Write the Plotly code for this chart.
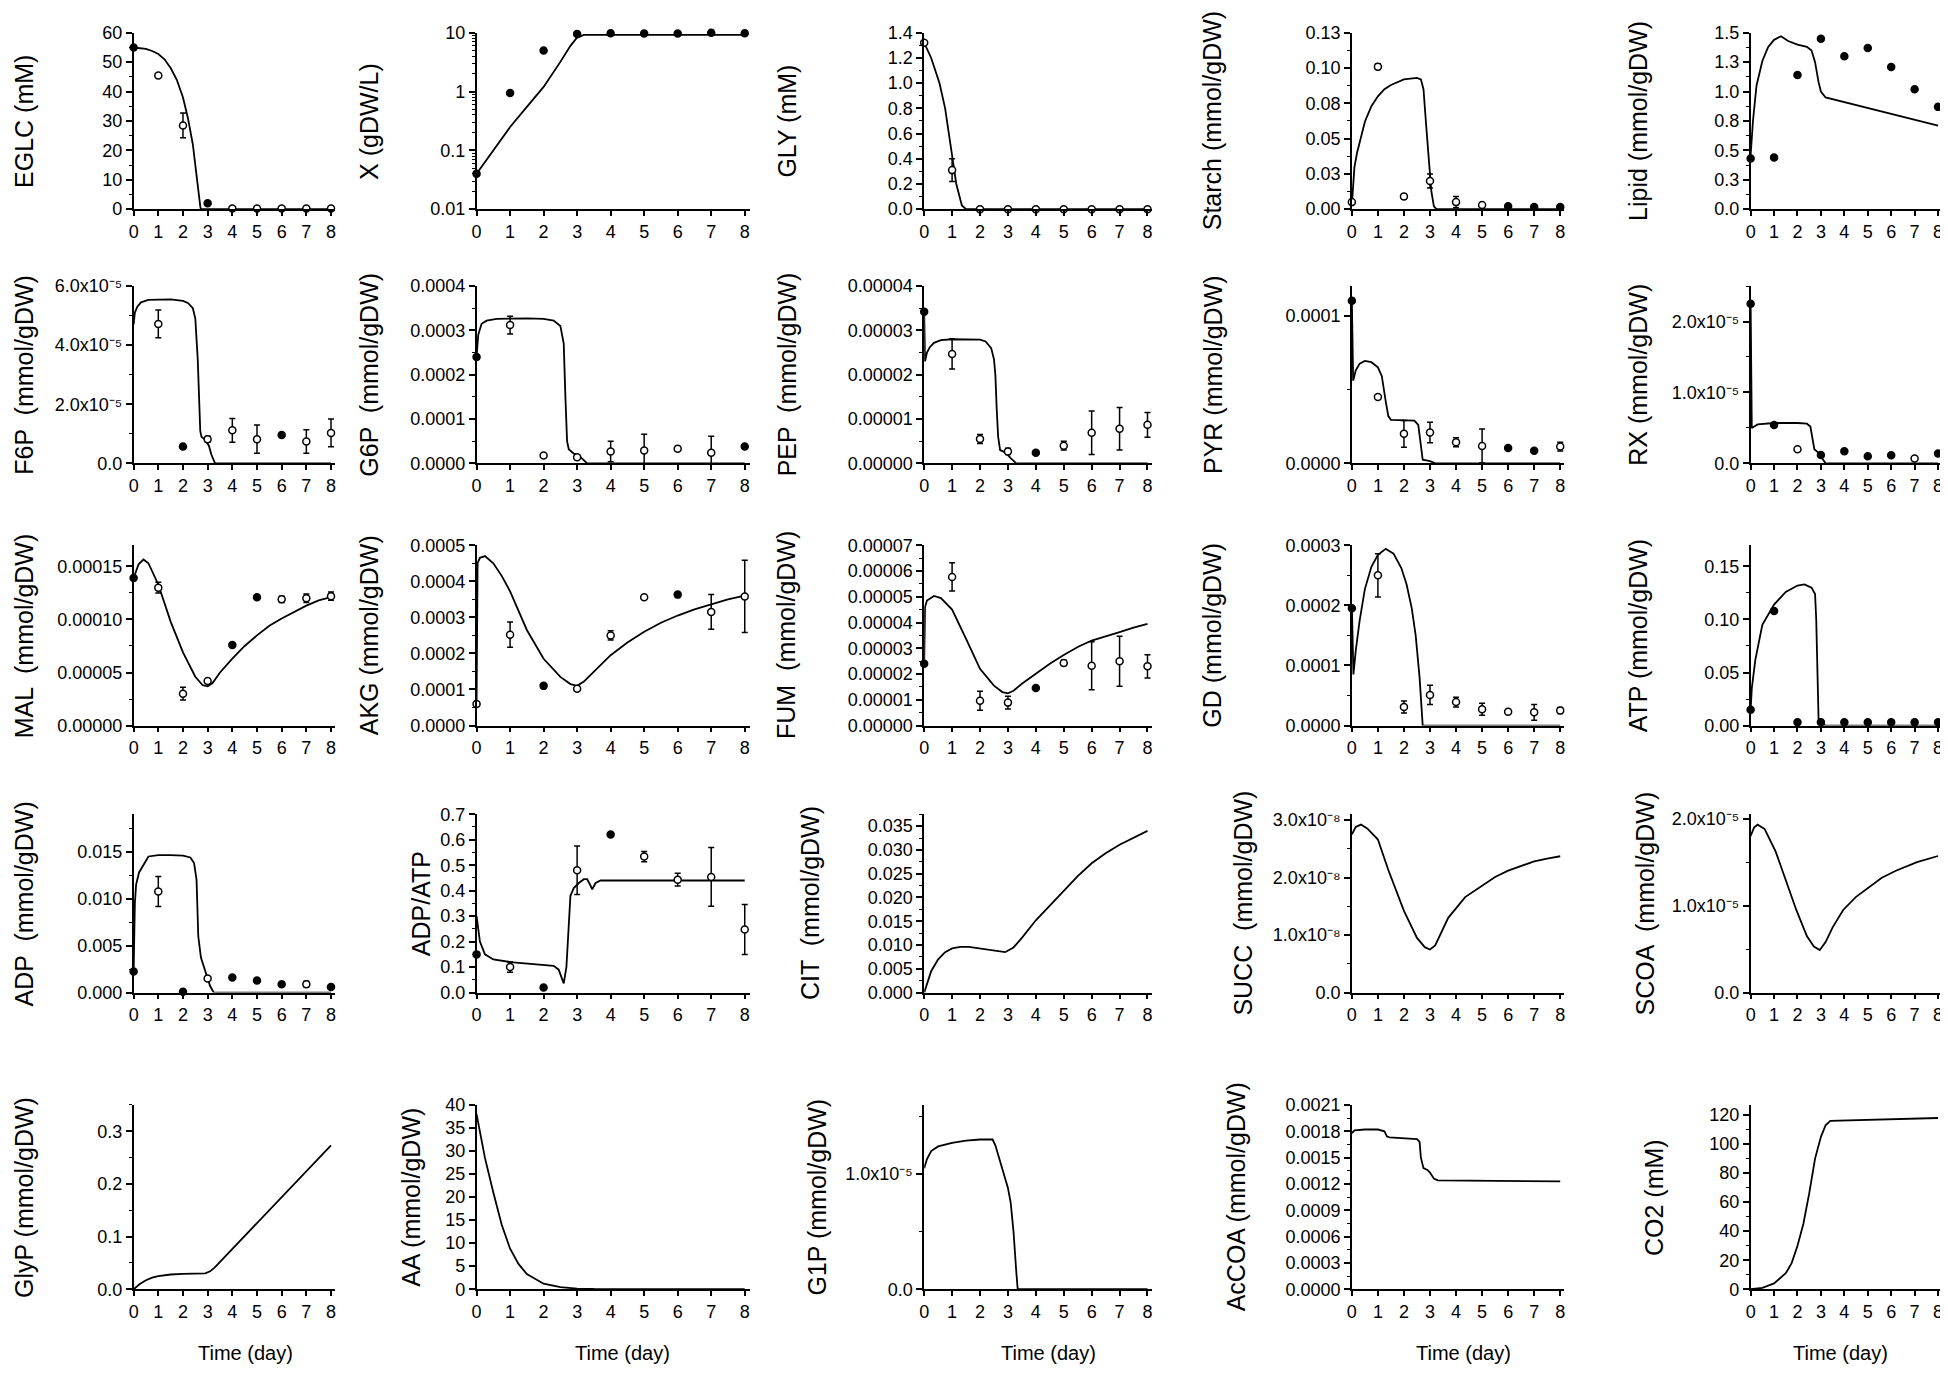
import subprocess
import plotly.graph_objects as go

days = [0, 1, 2, 3, 4, 5, 6, 7, 8]

# ---------------- Row 1 ----------------
EGLC_t = [0, 0.25, 0.5, 0.75, 1.0, 1.25, 1.5, 1.75, 2.0, 2.2, 2.4, 2.5, 2.6, 2.7, 2.72, 8]
EGLC_y = [55, 54.8, 54.5, 53.8, 52.8, 51, 48, 44, 38, 31, 22, 15, 7, 1, 0, 0]
EGLC_obs = [55, 45.5, 28.5, 2.0, 0.2, 0.2, 0.2, 0.2, 0.2]
EGLC_err = [None, None, 4.2, None, None, None, None, None, None]

X_t = [0, 0.5, 1, 1.5, 2, 2.5, 2.8, 3.0, 3.2, 8]
X_y = [0.04, 0.1, 0.25, 0.55, 1.2, 3.2, 6, 8.3, 9.2, 9.2]
X_obs = [0.04, 0.95, 5.0, 9.5, 9.8, 9.7, 9.7, 10.0, 9.8]
X_err = [None] * 9

GLY_t = [0, 0.25, 0.55, 0.75, 0.95, 1.15, 1.35, 1.5, 8]
GLY_y = [1.32, 1.2, 1.0, 0.8, 0.5, 0.2, 0.03, 0, 0]
GLY_obs = [1.32, 0.31, 0, 0, 0, 0, 0, 0, 0]
GLY_err = [None, 0.09, None, None, None, None, None, None, None]

Starch_t = [0, 0.05, 0.1, 0.2, 0.35, 0.5, 0.75, 1, 1.25, 1.5, 2, 2.5, 2.65, 2.75, 2.85, 2.95, 3.05, 3.15, 3.25, 8]
Starch_y = [0.003, 0.02, 0.03, 0.04, 0.052, 0.062, 0.073, 0.080, 0.085, 0.088, 0.092, 0.093, 0.092, 0.085, 0.06,
            0.035, 0.013, 0.002, 0, 0]
Starch_obs = [0.005, 0.101, 0.009, 0.02, 0.005, 0.003, 0.002, 0.0015, 0.0015]
Starch_err = [None, 0.002, 0.002, 0.005, 0.004, 0.001, None, None, None]

Lipid_t = [0, 0.1, 0.25, 0.5, 0.75, 1, 1.3, 1.6, 2, 2.4, 2.6, 2.75, 2.9, 3.0, 3.2, 8]
Lipid_y = [0.46, 0.75, 1.05, 1.26, 1.38, 1.44, 1.47, 1.43, 1.40, 1.38, 1.35, 1.25, 1.08, 1.0, 0.95, 0.71]
Lipid_obs = [0.43, 0.44, 1.14, 1.45, 1.30, 1.37, 1.21, 1.02, 0.87]
Lipid_err = [None] * 9

# ---------------- Row 2 ----------------
F6P_t = [0, 0.05, 0.15, 0.3, 0.6, 1, 1.5, 2, 2.2, 2.4, 2.5, 2.6, 2.65, 2.7, 2.75, 2.9, 3.05, 3.15, 3.3, 8]
F6P_y = [4.7e-5, 5.1e-5, 5.3e-5, 5.45e-5, 5.53e-5, 5.55e-5, 5.55e-5, 5.5e-5, 5.43e-5, 5.25e-5, 4.9e-5,
         3.5e-5, 2.0e-5, 1.1e-5, 0.9e-5, 0.8e-5, 0.6e-5, 0.3e-5, 0, 0]
F6P_obs = [None, 4.72e-5, 0.57e-5, 0.82e-5, 1.12e-5, 0.82e-5, 0.96e-5, 0.74e-5, 1.03e-5]
F6P_err = [None, 0.47e-5, None, 0.1e-5, 0.4e-5, 0.48e-5, None, 0.4e-5, 0.47e-5]

G6P_t = [0, 0.05, 0.15, 0.3, 0.6, 1, 1.5, 2, 2.3, 2.5, 2.6, 2.65, 2.7, 2.75, 2.9, 3.05, 3.2, 3.3, 8]
G6P_y = [2.4e-4, 2.9e-4, 3.15e-4, 3.22e-4, 3.26e-4, 3.27e-4, 3.27e-4, 3.26e-4, 3.22e-4, 3.1e-4, 2.7e-4,
         1.5e-4, 0.5e-4, 0.32e-4, 0.22e-4, 0.18e-4, 0.06e-4, 0, 0]
G6P_obs = [2.4e-4, 3.12e-4, 0.18e-4, 0.14e-4, 0.27e-4, 0.29e-4, 0.33e-4, 0.24e-4, 0.38e-4]
G6P_err = [None, 0.2e-4, None, 0.05e-4, 0.23e-4, 0.37e-4, 0.05e-4, 0.37e-4, None]

PEP_t = [0, 0.03, 0.1, 0.2, 0.35, 0.6, 1, 1.5, 2, 2.2, 2.4, 2.5, 2.55, 2.6, 2.65, 2.72, 2.9, 3.1, 3.3, 8]
PEP_y = [3.45e-5, 2.3e-5, 2.5e-5, 2.62e-5, 2.72e-5, 2.78e-5, 2.8e-5, 2.8e-5, 2.79e-5, 2.75e-5, 2.6e-5,
         2.35e-5, 2.0e-5, 1.2e-5, 0.6e-5, 0.3e-5, 0.25e-5, 0.12e-5, 0, 0]
PEP_obs = [3.42e-5, 2.47e-5, 0.55e-5, 0.27e-5, 0.24e-5, 0.40e-5, 0.69e-5, 0.78e-5, 0.87e-5]
PEP_err = [None, 0.34e-5, 0.1e-5, 0.07e-5, None, 0.1e-5, 0.49e-5, 0.48e-5, 0.28e-5]

PYR_t = [0, 0.05, 0.15, 0.3, 0.5, 0.75, 1.0, 1.15, 1.3, 1.4, 1.5, 2.0, 2.4, 2.55, 2.65, 2.72, 3.0, 3.2, 8]
PYR_y = [1.1e-4, 5.6e-5, 6.3e-5, 6.75e-5, 6.93e-5, 6.85e-5, 6.5e-5, 5.9e-5, 4.2e-5, 3.2e-5, 2.95e-5,
         2.92e-5, 2.9e-5, 2.6e-5, 1.0e-5, 0.25e-5, 0.15e-5, 0, 0]
PYR_obs = [1.1e-4, 4.5e-5, 2.0e-5, 2.09e-5, 1.43e-5, 1.18e-5, 1.05e-5, 0.85e-5, 1.14e-5]
PYR_err = [None, None, 0.9e-5, 0.7e-5, 0.3e-5, 1.15e-5, None, None, 0.3e-5]

RX_t = [0, 0.05, 0.3, 1, 2, 2.4, 2.55, 2.65, 2.72, 2.9, 3.05, 3.2, 8]
RX_y = [2.25e-5, 0.5e-5, 0.55e-5, 0.57e-5, 0.57e-5, 0.56e-5, 0.52e-5, 0.35e-5, 0.2e-5, 0.15e-5, 0.08e-5, 0, 0]
RX_obs = [2.25e-5, 0.54e-5, 0.2e-5, 0.12e-5, 0.17e-5, 0.1e-5, 0.115e-5, 0.07e-5, 0.14e-5]
RX_err = [None] * 9

# ---------------- Row 3 ----------------
MAL_t = [0, 0.2, 0.4, 0.6, 1.0, 1.5, 2.0, 2.5, 2.8, 3.0, 3.2, 3.5, 4, 4.5, 5, 5.5, 6, 6.5, 7, 7.5, 8]
MAL_y = [1.39e-4, 1.52e-4, 1.565e-4, 1.53e-4, 1.33e-4, 0.98e-4, 0.69e-4, 0.46e-4, 0.38e-4, 0.37e-4,
         0.4e-4, 0.5e-4, 0.63e-4, 0.75e-4, 0.85e-4, 0.94e-4, 1.01e-4, 1.07e-4, 1.13e-4, 1.18e-4, 1.21e-4]
MAL_obs = [1.39e-4, 1.30e-4, 0.30e-4, 0.42e-4, 0.76e-4, 1.21e-4, 1.19e-4, 1.20e-4, 1.22e-4]
MAL_err = [None, 0.05e-4, 0.06e-4, None, None, None, 0.03e-4, 0.04e-4, 0.04e-4]

AKG_t = [0, 0.03, 0.1, 0.25, 0.5, 0.75, 1, 1.5, 2, 2.5, 2.8, 3.0, 3.2, 3.5, 4, 4.5, 5, 5.5, 6, 6.5, 7, 7.5, 8]
AKG_y = [0.6e-4, 4.5e-4, 4.65e-4, 4.7e-4, 4.5e-4, 4.15e-4, 3.72e-4, 2.65e-4, 1.85e-4, 1.35e-4, 1.15e-4, 1.1e-4,
         1.22e-4, 1.5e-4, 1.95e-4, 2.3e-4, 2.6e-4, 2.85e-4, 3.05e-4, 3.22e-4, 3.37e-4, 3.5e-4, 3.6e-4]
AKG_obs = [0.6e-4, 2.52e-4, 1.1e-4, 1.02e-4, 2.5e-4, 3.56e-4, 3.63e-4, 3.15e-4, 3.58e-4]
AKG_err = [None, 0.35e-4, None, 0.07e-4, 0.13e-4, None, None, 0.48e-4, 1.0e-4]

FUM_t = [0, 0.03, 0.1, 0.35, 0.6, 1, 1.5, 2, 2.5, 2.8, 3.0, 3.2, 3.5, 4, 4.5, 5, 5.5, 6, 6.5, 7, 7.5, 8]
FUM_y = [2.4e-5, 4.6e-5, 4.85e-5, 5.03e-5, 4.95e-5, 4.5e-5, 3.36e-5, 2.2e-5, 1.55e-5, 1.3e-5, 1.25e-5, 1.35e-5,
         1.62e-5, 2.0e-5, 2.4e-5, 2.74e-5, 3.05e-5, 3.3e-5, 3.48e-5, 3.63e-5, 3.8e-5, 3.95e-5]
FUM_obs = [2.4e-5, 5.77e-5, 0.96e-5, 0.89e-5, 1.46e-5, 2.43e-5, 2.32e-5, 2.5e-5, 2.3e-5]
FUM_err = [None, 0.55e-5, 0.37e-5, 0.25e-5, None, 0.1e-5, 0.93e-5, 0.97e-5, 0.45e-5]

GD_t = [0, 0.03, 0.06, 0.15, 0.3, 0.5, 0.75, 1, 1.3, 1.6, 1.9, 2.1, 2.3, 2.45, 2.6, 2.72, 8]
GD_y = [2.0e-4, 1.2e-4, 0.85e-4, 1.25e-4, 1.75e-4, 2.27e-4, 2.64e-4, 2.84e-4, 2.94e-4, 2.86e-4, 2.62e-4,
        2.35e-4, 1.95e-4, 1.5e-4, 0.8e-4, 0, 0]
GD_obs = [1.95e-4, 2.5e-4, 0.31e-4, 0.51e-4, 0.39e-4, 0.27e-4, 0.23e-4, 0.22e-4, 0.25e-4]
GD_err = [None, 0.36e-4, 0.1e-4, 0.16e-4, 0.08e-4, 0.1e-4, None, 0.13e-4, 0.05e-4]

ATP_t = [0, 0.05, 0.2, 0.5, 1.0, 1.5, 2.0, 2.3, 2.6, 2.75, 2.8, 2.85, 2.9, 3.0, 3.2, 8]
ATP_y = [0.015, 0.035, 0.062, 0.095, 0.114, 0.126, 0.132, 0.133, 0.13, 0.124, 0.1, 0.056, 0.006, 0.002, 0, 0]
ATP_obs = [0.015, 0.108, 0.003, 0.003, 0.003, 0.003, 0.003, 0.003, 0.003]
ATP_err = [None] * 9

# ---------------- Row 4 ----------------
ADP_t = [0, 0.05, 0.1, 0.22, 0.6, 1.0, 1.5, 2.0, 2.3, 2.45, 2.55, 2.62, 2.73, 2.95, 3.1, 3.25, 8]
ADP_y = [0.0022, 0.0095, 0.0115, 0.0128, 0.0145, 0.01465, 0.01465, 0.0146, 0.0144, 0.0138, 0.012,
         0.006, 0.0037, 0.0019, 0.0007, 0, 0]
ADP_obs = [0.00225, 0.01076, 0.0001, 0.0015, 0.0016, 0.0013, 0.0009, 0.0009, 0.0006]
ADP_err = [None, 0.0016, None, None, None, None, None, 0.0003, None]

RATIO_t = [0, 0.05, 0.1, 0.25, 0.5, 1, 1.5, 2, 2.3, 2.45, 2.55, 2.6, 2.68, 2.75, 2.8, 2.9, 3.05, 3.2, 3.3, 3.4,
           3.45, 3.55, 3.7, 8]
RATIO_y = [0.3, 0.25, 0.2, 0.15, 0.13, 0.12, 0.115, 0.11, 0.105, 0.09, 0.05, 0.036, 0.1, 0.3, 0.38, 0.41, 0.43,
           0.445, 0.445, 0.42, 0.405, 0.43, 0.44, 0.44]
RATIO_obs = [0.15, 0.1, 0.02, 0.48, 0.62, 0.534, 0.443, 0.454, 0.248]
RATIO_err = [None, 0.02, None, 0.095, None, 0.02, 0.025, 0.115, 0.098]

CIT_t = [0, 0.1, 0.25, 0.5, 0.75, 1, 1.3, 1.6, 2, 2.5, 2.9, 3.2, 3.5, 4, 4.5, 5, 5.5, 6, 6.5, 7, 7.5, 8]
CIT_y = [0, 0.002, 0.0045, 0.0070, 0.0085, 0.0093, 0.0096, 0.0096, 0.0093, 0.0089, 0.0085, 0.0095, 0.0115,
         0.0152, 0.0183, 0.0212, 0.0245, 0.0272, 0.0293, 0.0311, 0.0326, 0.0340]

SUCC_t = [0, 0.15, 0.35, 0.6, 1.0, 1.4, 2.0, 2.5, 2.8, 3.0, 3.2, 3.7, 4.35, 5, 5.5, 6, 6.6, 7, 7.5, 8]
SUCC_y = [2.75e-8, 2.88e-8, 2.92e-8, 2.85e-8, 2.66e-8, 2.13e-8, 1.42e-8, 0.95e-8, 0.79e-8, 0.75e-8, 0.82e-8,
          1.3e-8, 1.66e-8, 1.86e-8, 2.01e-8, 2.12e-8, 2.22e-8, 2.28e-8, 2.33e-8, 2.37e-8]

SCOA_t = [0, 0.15, 0.3, 0.6, 1.07, 1.5, 1.95, 2.4, 2.7, 2.95, 3.2, 3.5, 3.95, 4.5, 5.1, 5.6, 6.2, 7.1, 8]
SCOA_y = [1.8e-5, 1.9e-5, 1.93e-5, 1.88e-5, 1.62e-5, 1.3e-5, 0.95e-5, 0.65e-5, 0.53e-5, 0.49e-5, 0.58e-5,
          0.75e-5, 0.95e-5, 1.1e-5, 1.22e-5, 1.32e-5, 1.4e-5, 1.5e-5, 1.57e-5]

# ---------------- Row 5 ----------------
GlyP_t = [0, 0.25, 0.5, 0.75, 1, 1.5, 2, 2.5, 2.9, 3.1, 3.3, 8]
GlyP_y = [0, 0.01, 0.017, 0.022, 0.025, 0.028, 0.029, 0.029, 0.030, 0.034, 0.042, 0.273]

AA_t = [0, 0.1, 0.25, 0.5, 0.75, 1, 1.25, 1.5, 2, 2.5, 3, 3.5, 8]
AA_y = [38, 34, 28.5, 21, 14, 8.8, 5.5, 3.3, 1.2, 0.45, 0.15, 0.05, 0]

G1P_t = [0, 0.1, 0.25, 0.5, 1, 1.5, 2, 2.45, 2.55, 2.7, 2.85, 3.0, 3.1, 3.2, 3.3, 3.35, 8]
G1P_y = [1.05e-5, 1.13e-5, 1.2e-5, 1.24e-5, 1.27e-5, 1.29e-5, 1.30e-5, 1.30e-5, 1.25e-5, 1.12e-5, 1.0e-5,
         0.88e-5, 0.75e-5, 0.5e-5, 0.15e-5, 0, 0]

AcCOA_t = [0, 0.1, 0.5, 1.0, 1.25, 1.35, 1.45, 2.0, 2.5, 2.6, 2.65, 2.75, 2.9, 3.0, 3.15, 3.3, 8]
AcCOA_y = [0.00178, 0.00181, 0.00182, 0.00182, 0.00180, 0.00174, 0.00173, 0.00172, 0.00171, 0.00168, 0.00150,
           0.00138, 0.00136, 0.00133, 0.00126, 0.00124, 0.00123]

CO2_t = [0, 0.5, 1, 1.5, 1.75, 2, 2.25, 2.5, 2.75, 3.0, 3.2, 3.4, 8]
CO2_y = [0, 1, 4, 11, 18, 30, 45, 66, 90, 105, 113, 116, 118]

# filled-marker indices (style, not data)
FILLED = {
    "EGLC": [0, 3], "X": list(range(9)), "GLY": [], "Starch": [6, 7, 8], "Lipid": list(range(9)),
    "F6P": [2, 6], "G6P": [0, 8], "PEP": [0, 4], "PYR": [0, 6, 7], "RX": [0, 1, 3, 4, 5, 6, 8],
    "MAL": [0, 4, 5], "AKG": [2, 6], "FUM": [0, 4], "GD": [0], "ATP": list(range(9)),
    "ADP": [0, 2, 4, 5, 6, 8], "RATIO": [0, 2, 4],
}

_SUP = str.maketrans("-0123456789", "\u207b\u2070\u00b9\u00b2\u00b3\u2074\u2075\u2076\u2077\u2078\u2079")


def sup(m, e):
    return f"{m}x10" + str(e).translate(_SUP)


panels = [
    # row 1
    dict(key="EGLC", t=EGLC_t, y=EGLC_y, obs=EGLC_obs, err=EGLC_err, title="EGLC (mM)",
         yr=[0, 60], tv=[0, 10, 20, 30, 40, 50, 60], tt=None, fmt="d", minor=5),
    dict(key="X", t=X_t, y=X_y, obs=X_obs, err=X_err, title="X (gDW/L)", log=True,
         yr=[-2, 1], tv=[0.01, 0.1, 1, 10], tt=["0.01", "0.1", "1", "10"], fmt=None, minor=None),
    dict(key="GLY", t=GLY_t, y=GLY_y, obs=GLY_obs, err=GLY_err, title="GLY (mM)",
         yr=[0, 1.4], tv=[0, 0.2, 0.4, 0.6, 0.8, 1.0, 1.2, 1.4], tt=None, fmt=".1f", minor=0.1),
    dict(key="Starch", t=Starch_t, y=Starch_y, obs=Starch_obs, err=Starch_err, title="Starch (mmol/gDW)",
         yr=[0, 0.125], tv=[0, 0.025, 0.05, 0.075, 0.1, 0.125],
         tt=["0.00", "0.03", "0.05", "0.08", "0.10", "0.13"], fmt=None, minor=0.0125),
    dict(key="Lipid", t=Lipid_t, y=Lipid_y, obs=Lipid_obs, err=Lipid_err, title="Lipid (mmol/gDW)",
         yr=[0, 1.5], tv=[0, 0.25, 0.5, 0.75, 1.0, 1.25, 1.5],
         tt=["0.0", "0.3", "0.5", "0.8", "1.0", "1.3", "1.5"], fmt=None, minor=0.125),
    # row 2
    dict(key="F6P", t=F6P_t, y=F6P_y, obs=F6P_obs, err=F6P_err, title="F6P  (mmol/gDW)",
         yr=[0, 6e-5], tv=[0, 2e-5, 4e-5, 6e-5], tt=["0.0", sup("2.0", -5), sup("4.0", -5), sup("6.0", -5)],
         fmt=None, minor=1e-5),
    dict(key="G6P", t=G6P_t, y=G6P_y, obs=G6P_obs, err=G6P_err, title="G6P  (mmol/gDW)",
         yr=[0, 4e-4], tv=[0, 1e-4, 2e-4, 3e-4, 4e-4], tt=None, fmt=".4f", minor=5e-5),
    dict(key="PEP", t=PEP_t, y=PEP_y, obs=PEP_obs, err=PEP_err, title="PEP  (mmol/gDW)",
         yr=[0, 4e-5], tv=[0, 1e-5, 2e-5, 3e-5, 4e-5], tt=None, fmt=".5f", minor=5e-6),
    dict(key="PYR", t=PYR_t, y=PYR_y, obs=PYR_obs, err=PYR_err, title="PYR (mmol/gDW)",
         yr=[0, 1.2e-4], tv=[0, 1e-4], tt=["0.0000", "0.0001"], fmt=None, minor=5e-5),
    dict(key="RX", t=RX_t, y=RX_y, obs=RX_obs, err=RX_err, title="RX (mmol/gDW)",
         yr=[0, 2.5e-5], tv=[0, 1e-5, 2e-5], tt=["0.0", sup("1.0", -5), sup("2.0", -5)], fmt=None, minor=5e-6),
    # row 3
    dict(key="MAL", t=MAL_t, y=MAL_y, obs=MAL_obs, err=MAL_err, title="MAL  (mmol/gDW)",
         yr=[0, 1.7e-4], tv=[0, 5e-5, 1e-4, 1.5e-4], tt=None, fmt=".5f", minor=2.5e-5),
    dict(key="AKG", t=AKG_t, y=AKG_y, obs=AKG_obs, err=AKG_err, title="AKG (mmol/gDW)",
         yr=[0, 5e-4], tv=[0, 1e-4, 2e-4, 3e-4, 4e-4, 5e-4], tt=None, fmt=".4f", minor=5e-5),
    dict(key="FUM", t=FUM_t, y=FUM_y, obs=FUM_obs, err=FUM_err, title="FUM  (mmol/gDW)",
         yr=[0, 7e-5], tv=[0, 1e-5, 2e-5, 3e-5, 4e-5, 5e-5, 6e-5, 7e-5], tt=None, fmt=".5f", minor=5e-6),
    dict(key="GD", t=GD_t, y=GD_y, obs=GD_obs, err=GD_err, title="GD (mmol/gDW)",
         yr=[0, 3e-4], tv=[0, 1e-4, 2e-4, 3e-4], tt=None, fmt=".4f", minor=5e-5),
    dict(key="ATP", t=ATP_t, y=ATP_y, obs=ATP_obs, err=ATP_err, title="ATP (mmol/gDW)",
         yr=[0, 0.17], tv=[0, 0.05, 0.10, 0.15], tt=None, fmt=".2f", minor=0.025),
    # row 4
    dict(key="ADP", t=ADP_t, y=ADP_y, obs=ADP_obs, err=ADP_err, title="ADP  (mmol/gDW)",
         yr=[0, 0.019], tv=[0, 0.005, 0.010, 0.015], tt=None, fmt=".3f", minor=0.0025),
    dict(key="RATIO", t=RATIO_t, y=RATIO_y, obs=RATIO_obs, err=RATIO_err, title="ADP/ATP",
         yr=[0, 0.7], tv=[0, 0.1, 0.2, 0.3, 0.4, 0.5, 0.6, 0.7], tt=None, fmt=".1f", minor=0.05),
    dict(key="CIT", t=CIT_t, y=CIT_y, obs=None, err=None, title="CIT  (mmol/gDW)",
         yr=[0, 0.0375], tv=[0, 0.005, 0.010, 0.015, 0.020, 0.025, 0.030, 0.035], tt=None, fmt=".3f",
         minor=0.0025),
    dict(key="SUCC", t=SUCC_t, y=SUCC_y, obs=None, err=None, title="SUCC  (mmol/gDW)",
         yr=[0, 3.1e-8], tv=[0, 1e-8, 2e-8, 3e-8], tt=["0.0", sup("1.0", -8), sup("2.0", -8), sup("3.0", -8)],
         fmt=None, minor=5e-9),
    dict(key="SCOA", t=SCOA_t, y=SCOA_y, obs=None, err=None, title="SCOA  (mmol/gDW)",
         yr=[0, 2.05e-5], tv=[0, 1e-5, 2e-5], tt=["0.0", sup("1.0", -5), sup("2.0", -5)], fmt=None, minor=5e-6),
    # row 5
    dict(key="GlyP", t=GlyP_t, y=GlyP_y, obs=None, err=None, title="GlyP (mmol/gDW)",
         yr=[0, 0.35], tv=[0, 0.1, 0.2, 0.3], tt=None, fmt=".1f", minor=0.05),
    dict(key="AA", t=AA_t, y=AA_y, obs=None, err=None, title="AA (mmol/gDW)",
         yr=[0, 40], tv=[0, 5, 10, 15, 20, 25, 30, 35, 40], tt=None, fmt="d", minor=None),
    dict(key="G1P", t=G1P_t, y=G1P_y, obs=None, err=None, title="G1P (mmol/gDW)",
         yr=[0, 1.6e-5], tv=[0, 1e-5], tt=["0.0", sup("1.0", -5)], fmt=None, minor=5e-6),
    dict(key="AcCOA", t=AcCOA_t, y=AcCOA_y, obs=None, err=None, title="AcCOA (mmol/gDW)",
         yr=[0, 0.0021], tv=[0, 0.0003, 0.0006, 0.0009, 0.0012, 0.0015, 0.0018, 0.0021], tt=None, fmt=".4f",
         minor=0.00015),
    dict(key="CO2", t=CO2_t, y=CO2_y, obs=None, err=None, title="CO2 (mM)",
         yr=[0, 127], tv=[0, 20, 40, 60, 80, 100, 120], tt=None, fmt="d", minor=10),
]

W, H = 1948, 1374
XMAX = 8.15
# pixel positions of the x=0 and x=8 ticks for each column
COLS = [(121, 319), (465, 734), (914, 1138), (1343, 1552), (1743, 1931)]
# pixel positions of the top and bottom of each row
ROWS = [(15, 194), (272, 452), (535, 718), (808, 989), (1103, 1290)]
# x centre of the y-axis titles (per row, per column)
TITLE_X = [
    [11, 357, 776, 1203, 1630],
    [11, 357, 776, 1203, 1630],
    [11, 357, 776, 1203, 1630],
    [11, 410, 800, 1234, 1637],
    [11, 399, 807, 1227, 1646],
]
# centre of the "Time (day)" labels
XTITLE_X = [233, 611, 1039, 1455, 1833]
XTITLE_Y = 1355

try:
    _fams = subprocess.run(["fc-list", ":", "family"], capture_output=True, text=True, timeout=20).stdout
except Exception:
    _fams = ""
if "Liberation Sans Narrow" in _fams:
    TICKFAM, TICKSIZE, XTSIZE = "Liberation Sans Narrow", 22, 23
else:
    TICKFAM, TICKSIZE, XTSIZE = "Liberation Sans, Arial", 18, 20

TICKFONT = dict(family=TICKFAM, size=TICKSIZE, color="black")
TITLEFONT = dict(family="Liberation Sans, Arial", size=25, color="black")

fig = go.Figure()
layout = {}
annotations = []
for i, p in enumerate(panels):
    r, c = divmod(i, 5)
    n = i + 1
    xa = "x" if n == 1 else f"x{n}"
    ya = "y" if n == 1 else f"y{n}"
    xkey = "xaxis" if n == 1 else f"xaxis{n}"
    ykey = "yaxis" if n == 1 else f"yaxis{n}"
    x0, x8 = COLS[c]
    x1 = x0 + (x8 - x0) * XMAX / 8
    y0, y1 = ROWS[r]

    fig.add_trace(go.Scatter(x=p["t"], y=p["y"], mode="lines", line=dict(color="black", width=1.8),
                             xaxis=xa, yaxis=ya, showlegend=False, hoverinfo="skip"))
    if p["obs"] is not None:
        filled = FILLED.get(p["key"], [])
        for is_filled in (False, True):
            idx = [k for k in range(len(days)) if (k in filled) == is_filled and p["obs"][k] is not None]
            if not idx:
                continue
            ev = [p["err"][k] for k in idx]
            has_err = any(e is not None for e in ev)
            fig.add_trace(go.Scatter(
                x=[days[k] for k in idx], y=[p["obs"][k] for k in idx], mode="markers",
                marker=dict(symbol="circle", size=7,
                            color="black" if is_filled else "white",
                            line=dict(color="black", width=1.5)),
                error_y=dict(type="data", array=ev, visible=has_err, color="black", thickness=1.5, width=3),
                xaxis=xa, yaxis=ya, showlegend=False, cliponaxis=False))

    xaxis = dict(domain=[x0 / W, x1 / W], anchor=ya, range=[0, XMAX], tickmode="array", tickvals=days,
                 showline=True, linecolor="black", linewidth=1.5, ticks="outside", ticklen=5, tickwidth=1.5,
                 tickcolor="black", showgrid=False, zeroline=False, tickfont=TICKFONT, fixedrange=True,
                 ticklabeloverflow="allow")
    yaxis = dict(domain=[1 - y1 / H, 1 - y0 / H], anchor=xa, showline=True, linecolor="black", linewidth=1.5,
                 ticks="outside", ticklen=6, tickwidth=1.5, tickcolor="black", showgrid=False, zeroline=False,
                 tickfont=TICKFONT, fixedrange=True, ticklabeloverflow="allow")
    if p.get("log"):
        yaxis.update(type="log", range=p["yr"], tickmode="array", tickvals=p["tv"], ticktext=p["tt"])
        mv = [m * 10 ** e for e in (-2, -1, 0) for m in range(2, 10)]
        yaxis["minor"] = dict(tickmode="array", tickvals=mv, ticks="outside", ticklen=3, tickwidth=1,
                              tickcolor="black")
    else:
        yaxis.update(range=p["yr"], tickmode="array", tickvals=p["tv"])
        if p["tt"] is not None:
            yaxis["ticktext"] = p["tt"]
        else:
            yaxis["tickformat"] = p["fmt"]
        if p["minor"]:
            yaxis["minor"] = dict(tickmode="linear", tick0=0, dtick=p["minor"], ticks="outside", ticklen=3,
                                  tickwidth=1, tickcolor="black")
    layout[xkey] = xaxis
    layout[ykey] = yaxis

    annotations.append(dict(text=p["title"], xref="paper", yref="paper",
                            x=TITLE_X[r][c] / W, y=1 - (y0 + y1) / 2 / H, xanchor="center", yanchor="middle",
                            textangle=-90, showarrow=False, font=TITLEFONT))
    if r == 4:
        annotations.append(dict(text="Time (day)", xref="paper", yref="paper",
                                x=XTITLE_X[c] / W, y=1 - XTITLE_Y / H, xanchor="center", yanchor="middle",
                                showarrow=False, font=dict(family=TICKFAM, size=XTSIZE, color="black")))

fig.update_layout(width=W, height=H, margin=dict(l=0, r=0, t=0, b=0), plot_bgcolor="white",
                  paper_bgcolor="white", showlegend=False, annotations=annotations, **layout)
fig.write_html("out.html")
